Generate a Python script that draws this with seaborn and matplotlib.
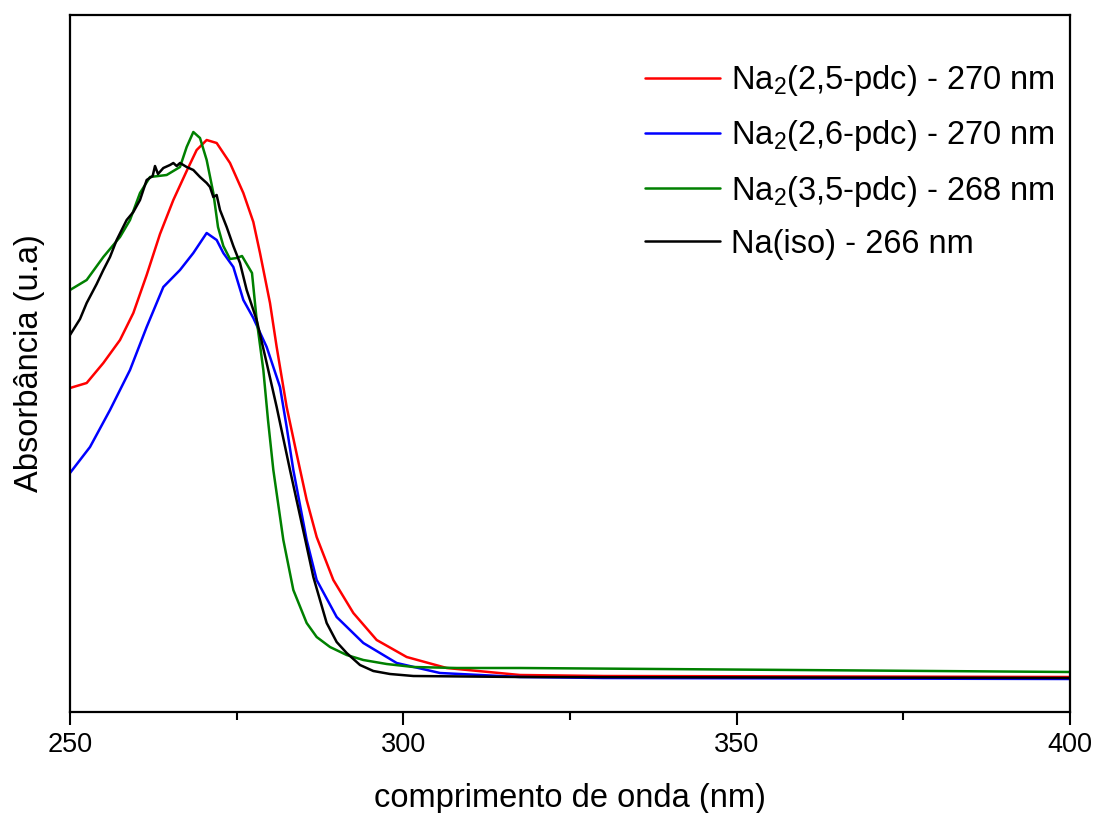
import matplotlib
matplotlib.use("Agg")
import matplotlib.pyplot as plt
import seaborn as sns
import pandas as pd

# ---- data (wavelength nm, absorbance a.u.) ----
red_x = [250, 252.5, 255, 257.5, 259.5, 261.5, 263.5, 265.5, 267.5, 269, 270.5, 272, 274, 276,
         277.5, 278.5, 280, 281, 282.5, 284, 285.5, 287, 289.5, 292.5, 296, 300.5, 306.5,
         317.5, 330, 400]
red_y = [0.324, 0.329, 0.349, 0.372, 0.399, 0.437, 0.478, 0.512, 0.541, 0.562, 0.572, 0.569,
         0.549, 0.519, 0.490, 0.459, 0.409, 0.365, 0.305, 0.258, 0.212, 0.175, 0.132, 0.099,
         0.072, 0.055, 0.044, 0.037, 0.036, 0.035]

blue_x = [250, 253, 256, 259, 261.5, 264, 266.5, 268.5, 270.5, 272, 273, 274.5, 276, 277.5,
          279.5, 281.5, 282.5, 283.5, 285.5, 287, 290, 294, 299, 305.5, 317.5, 330, 400]
blue_y = [0.239, 0.265, 0.302, 0.342, 0.385, 0.425, 0.442, 0.459, 0.479, 0.472, 0.459, 0.445,
          0.412, 0.394, 0.365, 0.325, 0.285, 0.242, 0.172, 0.132, 0.095, 0.069, 0.049, 0.039,
          0.035, 0.034, 0.033]

green_x = [250, 252.5, 255, 257.5, 259, 260.5, 262, 264.5, 266.5, 267.5, 268.5, 269.5, 270.5,
           271.5, 272.2, 273, 274, 275, 275.8, 277.3, 278, 279, 279.7, 280.5, 282, 283.5,
           285.5, 287, 289, 291.5, 294, 297.5, 301.5, 308, 317.5, 400]
green_y = [0.422, 0.432, 0.455, 0.475, 0.492, 0.519, 0.535, 0.537, 0.545, 0.565, 0.580, 0.574,
           0.552, 0.519, 0.485, 0.466, 0.453, 0.454, 0.456, 0.439, 0.392, 0.342, 0.292, 0.242,
           0.172, 0.122, 0.089, 0.075, 0.065, 0.057, 0.052, 0.048, 0.045, 0.044, 0.044, 0.040]

black_x = [250, 251.5, 252.5, 254, 255, 256, 257, 258.5, 259.5, 260.5, 261.5, 262.4, 262.75,
           263.2, 264, 265, 265.5, 266, 266.5, 267.5, 268.5, 269.5, 270.5, 271, 271.5, 272,
           272.5, 273.5, 274.5, 275.5, 276.5, 278, 279.5, 281, 283, 285.3, 286.5, 288.5,
           290, 291.5, 293.5, 295.5, 298, 301.5, 317.5, 400]
black_y = [0.377, 0.393, 0.409, 0.428, 0.442, 0.455, 0.472, 0.492, 0.500, 0.512, 0.532, 0.536,
           0.546, 0.538, 0.544, 0.547, 0.549, 0.546, 0.549, 0.545, 0.542, 0.535, 0.529, 0.525,
           0.515, 0.517, 0.502, 0.485, 0.466, 0.449, 0.422, 0.392, 0.349, 0.305, 0.242, 0.172,
           0.135, 0.089, 0.070, 0.059, 0.047, 0.041, 0.038, 0.036, 0.035, 0.034]

labels = [r"Na$_{\mathrm{2}}$(2,5-pdc) - 270 nm",
          r"Na$_{\mathrm{2}}$(2,6-pdc) - 270 nm",
          r"Na$_{\mathrm{2}}$(3,5-pdc) - 268 nm",
          "Na(iso) - 266 nm"]
colors = ["#ff0000", "#0000ff", "#008000", "#000000"]

xs = [red_x, blue_x, green_x, black_x]
ys = [red_y, blue_y, green_y, black_y]

frames = []
for lab, x, y in zip(labels, xs, ys):
    frames.append(pd.DataFrame({"wl": x, "abs": y, "serie": lab}))
df = pd.concat(frames, ignore_index=True)

sns.set_theme(style="ticks")
plt.rcParams["font.family"] = ["Liberation Sans", "DejaVu Sans"]
plt.rcParams["mathtext.fontset"] = "custom"
plt.rcParams["mathtext.rm"] = "Liberation Sans"
plt.rcParams["mathtext.it"] = "Liberation Sans:italic"
plt.rcParams["text.color"] = "black"
plt.rcParams["axes.labelcolor"] = "black"
plt.rcParams["xtick.color"] = "black"
plt.rcParams["xtick.labelsize"] = 19.5

fig = plt.figure(figsize=(10.95, 8.13), dpi=100)
ax = fig.add_axes([70 / 1095, 1 - 712 / 813, 1000 / 1095, 697 / 813])

sns.lineplot(data=df, x="wl", y="abs", hue="serie", palette=dict(zip(labels, colors)),
             hue_order=labels, sort=False, estimator=None, linewidth=1.8, ax=ax)

ax.set_xlim(250, 400)
ax.set_ylim(0, 0.697)
ax.set_xticks([250, 300, 350, 400])
ax.set_xticks([275, 325, 375], minor=True)
ax.set_yticks([])
ax.tick_params(axis="x", which="major", direction="out", length=9.5, width=1.5, pad=5)
ax.tick_params(axis="x", which="minor", direction="out", length=5.5, width=1.5)
for lbl in ax.get_xticklabels():
    lbl.set_fontsize(19.5)
for s in ax.spines.values():
    s.set_linewidth(1.6)
    s.set_color("black")
    s.set_visible(True)

ax.set_xlabel("comprimento de onda (nm)", fontsize=23.5, labelpad=18)
ax.set_ylabel("Absorbância (u.a)", fontsize=23.5, labelpad=18)

leg = ax.legend(loc="upper left", bbox_to_anchor=(0.575, 0.931), frameon=False,
                fontsize=23.5, handlelength=2.3, handletextpad=0.35,
                labelspacing=0.62, borderaxespad=0, borderpad=0)
for line in leg.get_lines():
    line.set_linewidth(1.8)

fig.savefig("out.png", dpi=100, facecolor="white")
